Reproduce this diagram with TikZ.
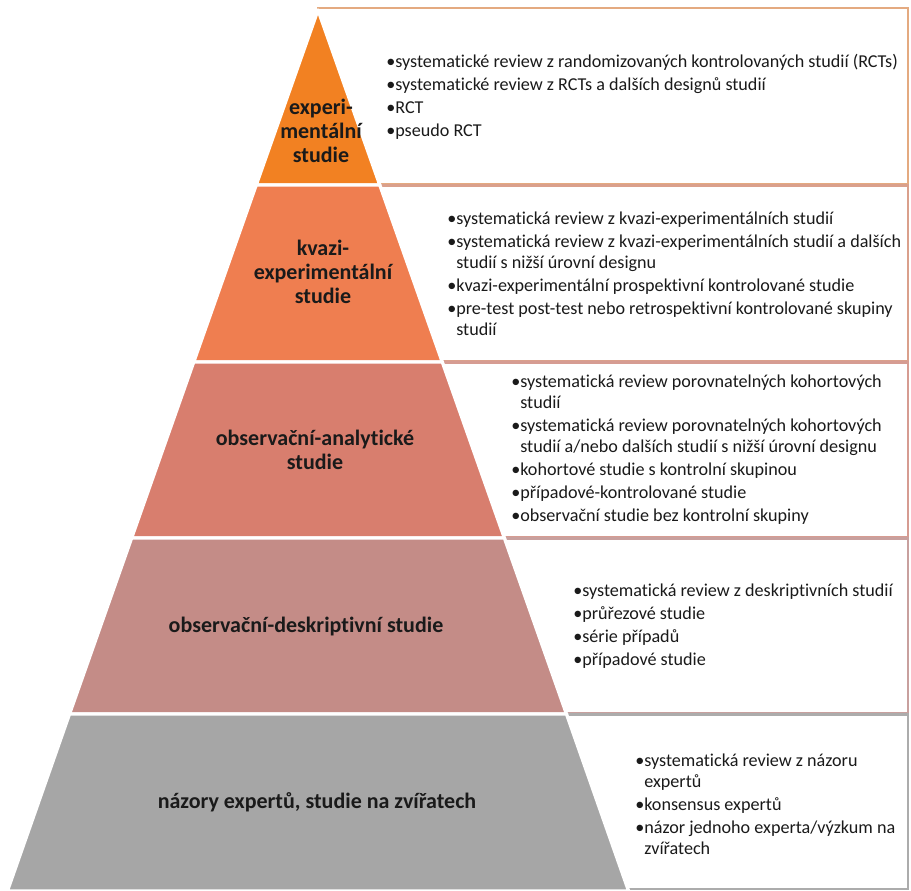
\documentclass[tikz,border=0pt]{standalone}
\usepackage{fontspec}
\setmainfont{Carlito}[Ligatures=NoCommon]
\usepackage{xcolor}

\definecolor{lvlA}{RGB}{242,129,34}
\definecolor{lvlB}{RGB}{239,126,80}
\definecolor{lvlC}{RGB}{216,126,110}
\definecolor{lvlD}{RGB}{196,140,135}
\definecolor{lvlE}{RGB}{166,166,166}
\definecolor{rimA}{RGB}{228,170,128}
\definecolor{rimB}{RGB}{218,160,140}
\definecolor{rimC}{RGB}{214,156,146}
\definecolor{rimD}{RGB}{200,160,158}
\definecolor{rimE}{RGB}{172,172,172}
\definecolor{ink}{RGB}{26,26,26}

\begin{document}
\begin{tikzpicture}[x=0.75pt,y=0.75pt,yscale=-1,xscale=1,
  listbox/.style={line width=2pt,fill=white},
  tier/.style={draw=white,line width=2.5pt,line join=round},
  tiername/.style={align=center,inner sep=0.75pt,text=ink,
    font=\fontsize{16.5}{18}\selectfont\bfseries},
  tierlist/.style={anchor=west,align=left,inner sep=0.75pt,text=ink,
    font=\fontsize{13.6}{15.75}\selectfont}]
\useasboundingbox (0,0) rectangle (911,890);

%Shape: Rectangle [lists behind the pyramid]
\draw [listbox,draw=rimA] (318,8) rectangle (908,184.5) ;
\draw [listbox,draw=rimB] (318,185.5) rectangle (908,361.5) ;
\draw [listbox,draw=rimC] (318,362.5) rectangle (908,537.5) ;
\draw [listbox,draw=rimD] (318,538.5) rectangle (908,713.5) ;
\draw [listbox,draw=rimE] (318,714.5) rectangle (908,889) ;

%Shape: Triangle [top tier]
\draw [tier,fill=lvlA] (318,10) -- (379.8,185) -- (256.2,185) -- cycle ;
%Shape: Trapezoid
\draw [tier,fill=lvlB] (256.2,185) -- (379.8,185) -- (442.3,362) -- (193.7,362) -- cycle ;
%Shape: Trapezoid
\draw [tier,fill=lvlC] (193.7,362) -- (442.3,362) -- (504.4,538) -- (131.6,538) -- cycle ;
%Shape: Trapezoid
\draw [tier,fill=lvlD] (131.6,538) -- (504.4,538) -- (566.5,714) -- (69.5,714) -- cycle ;
%Shape: Trapezoid
\draw [tier,fill=lvlE] (69.5,714) -- (566.5,714) -- (628.6,891) -- (7.4,891) -- cycle ;

% Text Node
\node [tiername] (expname) at (321,131) {experi-\\mentální\\studie};
% Text Node
\node [tiername] (kvaziname) at (323,272) {kvazi-\\experimentální\\studie};
% Text Node
\node [tiername] (analname) at (315,450) {observační-analytické\\studie};
% Text Node
\node [tiername] (deskname) at (306,627) {observační-deskriptivní studie};
% Text Node
\node [tiername] (expertname) at (317,802) {názory expertů, studie na zvířatech};

% Text Node
\node [tierlist] (explist) at (385,96.5) {•systematické review z randomizovaných kontrolovaných studií (RCTs)\\[1.5pt]
•systematické review z RCTs a dalších designů studií\\[1.5pt]
•RCT\\[1.5pt]
•pseudo RCT};
% Text Node
\node [tierlist] (kvazilist) at (446,274) {•systematická review z kvazi-experimentálních studií\\[1.5pt]
•systematická review z kvazi-experimentálních studií a dalších\\
\phantom{•}studií s nižší úrovní designu\\[1.5pt]
•kvazi-experimentální prospektivní kontrolované studie\\[1.5pt]
•pre-test post-test nebo retrospektivní kontrolované skupiny\\
\phantom{•}studií};
% Text Node
\node [tierlist] (anallist) at (510,450) {•systematická review porovnatelných kohortových\\
\phantom{•}studií\\[1.5pt]
•systematická review porovnatelných kohortových\\
\phantom{•}studií a/nebo dalších studií s nižší úrovní designu\\[1.5pt]
•kohortové studie s kontrolní skupinou\\[1.5pt]
•případové-kontrolované studie\\[1.5pt]
•observační studie bez kontrolní skupiny};
% Text Node
\node [tierlist] (desklist) at (572,626) {•systematická review z deskriptivních studií\\[1.5pt]
•průřezové studie\\[1.5pt]
•série případů\\[1.5pt]
•případové studie};
% Text Node
\node [tierlist] (expertlist) at (634,804) {•systematická review z názoru\\
\phantom{•}expertů\\[1.5pt]
•konsensus expertů\\[1.5pt]
•názor jednoho experta/výzkum na\\
\phantom{•}zvířatech};

\end{tikzpicture}
\end{document}
